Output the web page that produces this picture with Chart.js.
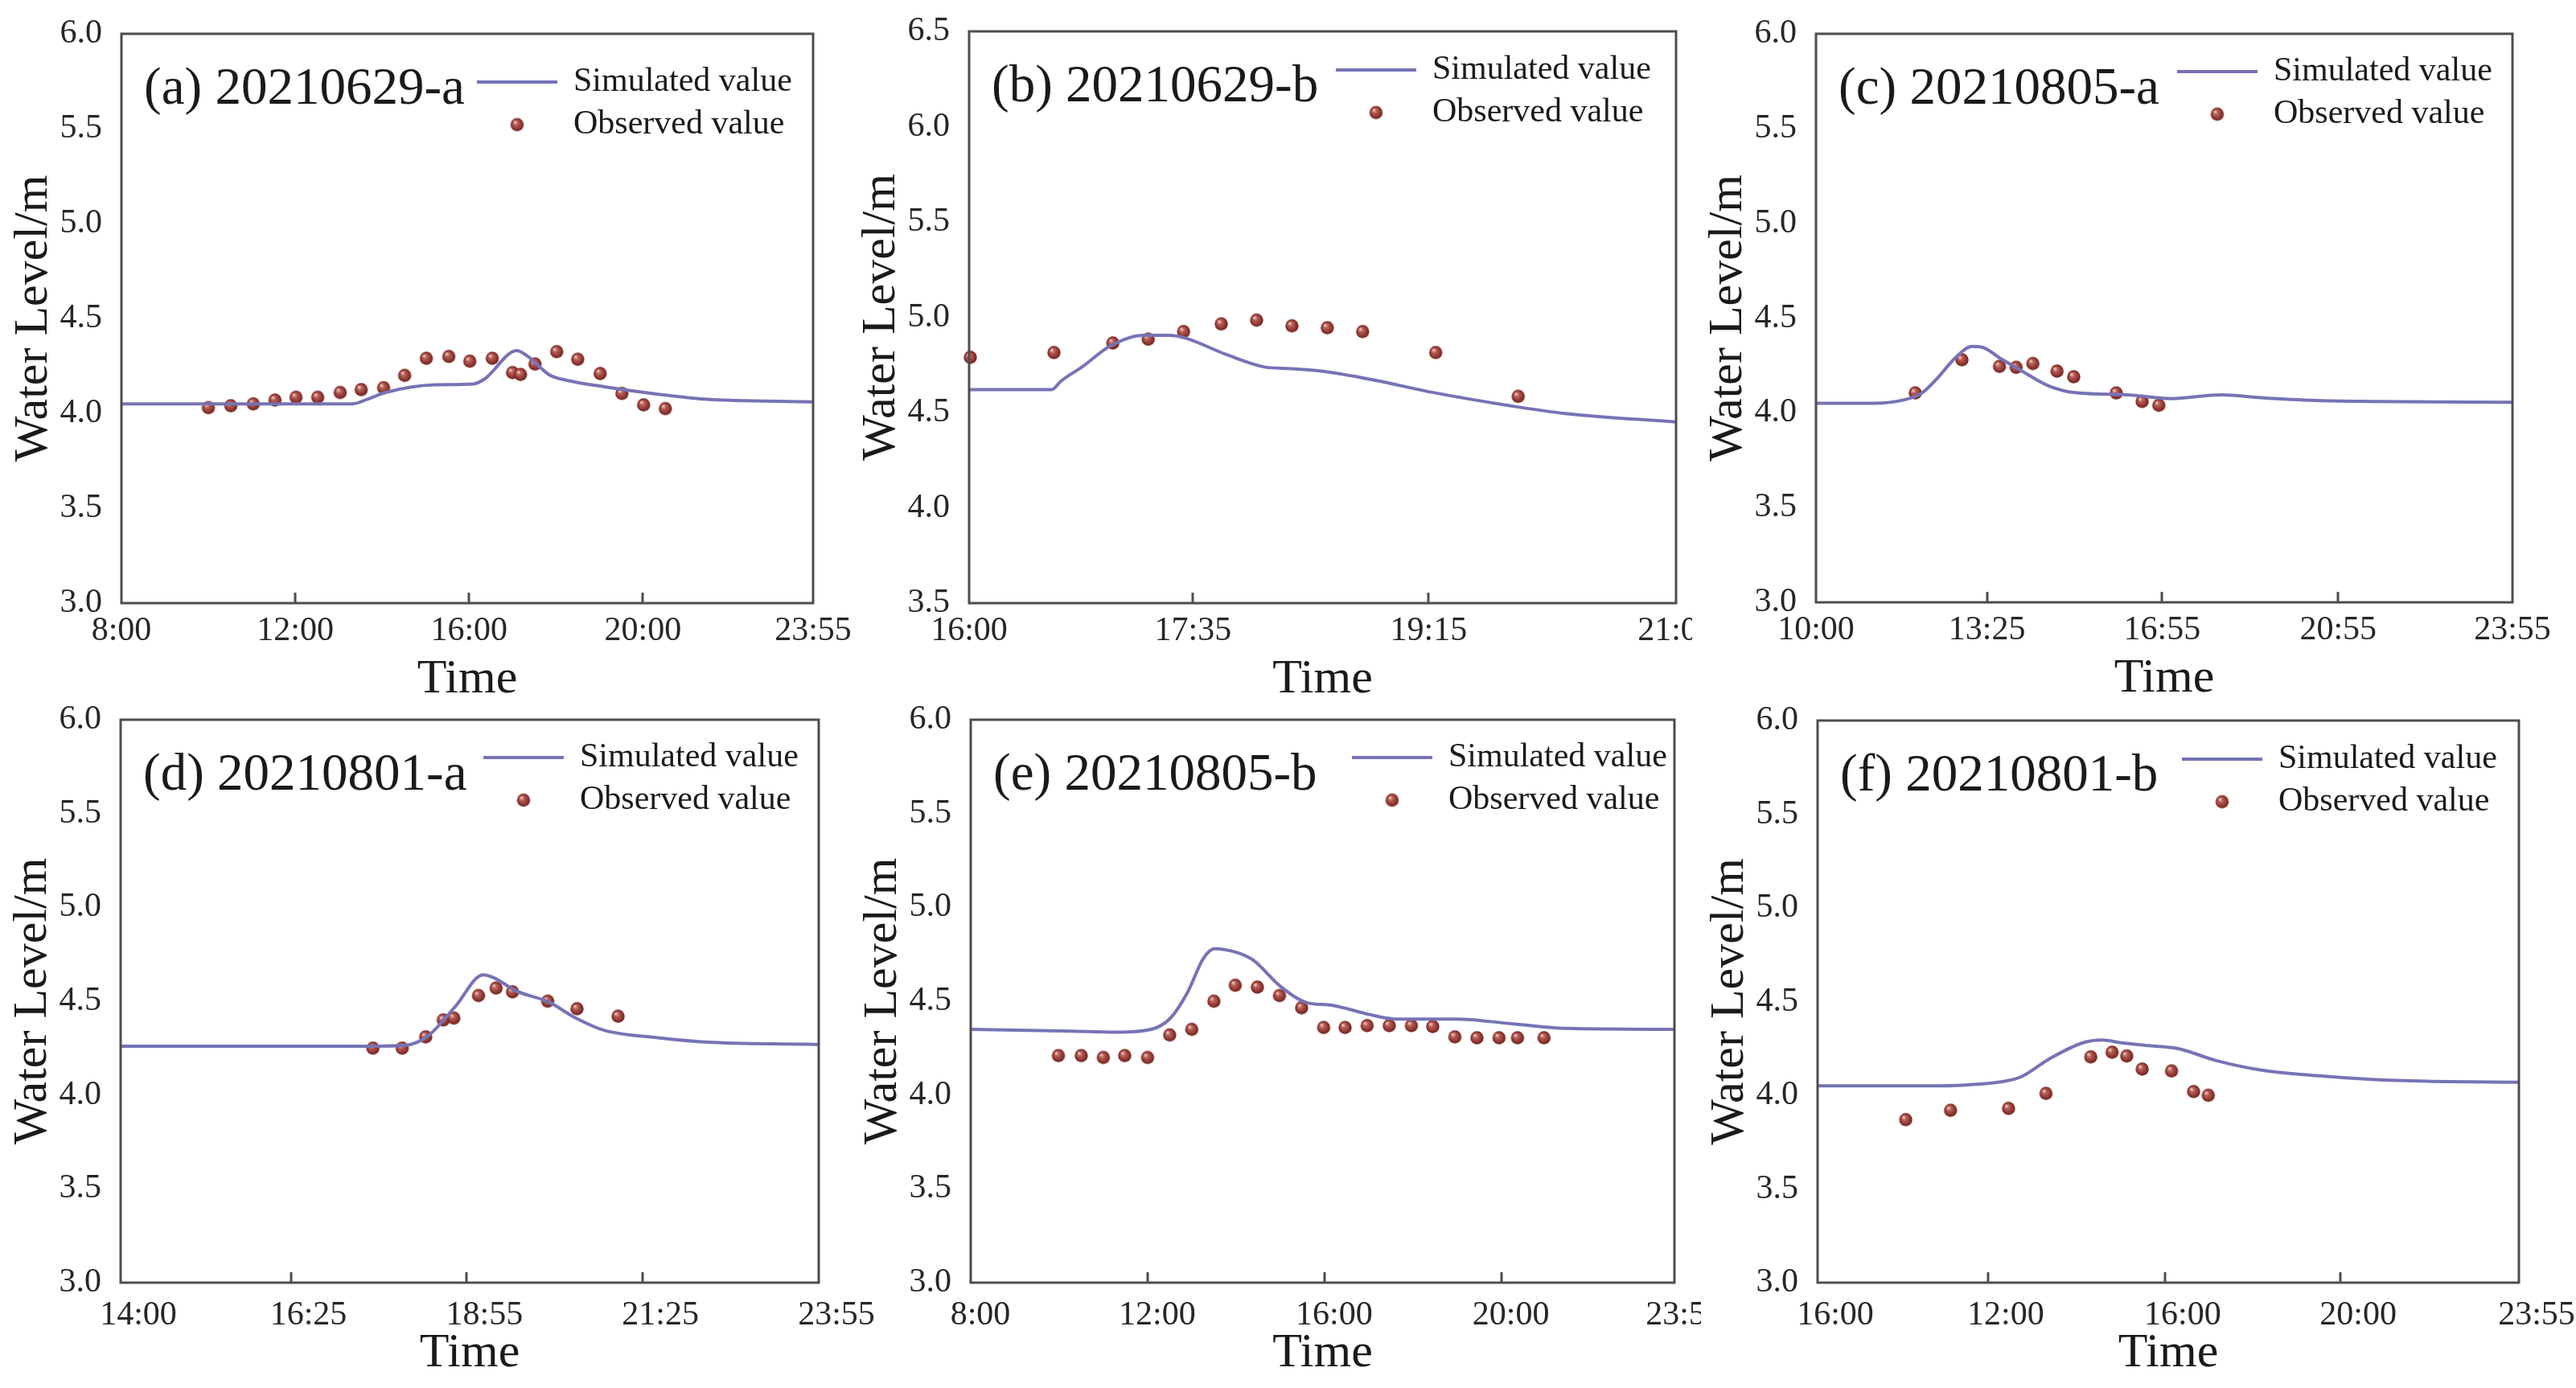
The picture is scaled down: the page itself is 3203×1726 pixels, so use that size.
<!DOCTYPE html>
<html>
<head>
<meta charset="utf-8">
<script src="https://cdn.jsdelivr.net/npm/chart.js@4.4.1/dist/chart.umd.min.js"></script>
<style>
  html, body { margin: 0; padding: 0; background: #fff; }
  body { width: 3203px; height: 1726px; position: relative; overflow: hidden; }
  canvas.panel { position: absolute; }
</style>
</head>
<body>
<script>
// ---- data (time = minutes after the first tick of each panel) ----
const simTimeA  = [0, 319, 340, 365, 433, 486, 501, 546, 561, 592, 614, 667, 743, 804, 955];
const simLevelA = [4.05, 4.05, 4.075, 4.11, 4.15, 4.155, 4.18, 4.33, 4.30, 4.20, 4.175, 4.14, 4.10, 4.075, 4.06];
const obsTimeA  = [120, 151, 182, 212, 241, 271, 302, 331, 362, 391, 421, 452, 481, 512, 540, 551, 571, 601, 630, 661, 691, 721, 751];
const obsLevelA = [4.03, 4.04, 4.05, 4.07, 4.085, 4.085, 4.11, 4.125, 4.135, 4.20, 4.29, 4.30, 4.275, 4.29, 4.215, 4.205, 4.26, 4.325, 4.285, 4.21, 4.105, 4.045, 4.025];
const tickPosA  = [0, 240, 480, 720, 955];
const tickTextA = ['8:00', '12:00', '16:00', '20:00', '23:55'];

const simTimeB  = [0, 35, 39, 48, 60, 74, 85, 92, 109, 125, 137, 151, 172, 197, 230, 253, 300];
const simLevelB = [4.62, 4.62, 4.665, 4.74, 4.85, 4.905, 4.905, 4.89, 4.805, 4.74, 4.73, 4.715, 4.67, 4.605, 4.535, 4.495, 4.45];
const obsTimeB  = [0.5, 36, 61, 76, 91, 107, 122, 137, 152, 167, 198, 233];
const obsLevelB = [4.79, 4.815, 4.865, 4.885, 4.925, 4.965, 4.985, 4.955, 4.945, 4.925, 4.815, 4.585];
const tickPosB  = [0, 95, 195, 300];
const tickTextB = ['16:00', '17:35', '19:15', '21:00'];

const simTimeC  = [0, 67, 107, 127, 147, 167, 187, 200, 220, 247, 280, 313, 373, 426, 486, 533, 600, 666, 835];
const simLevelC = [4.05, 4.05, 4.07, 4.105, 4.19, 4.29, 4.35, 4.345, 4.29, 4.22, 4.14, 4.105, 4.095, 4.075, 4.095, 4.08, 4.065, 4.06, 4.055];
const obsTimeC  = [119, 175, 220, 240, 260, 289, 309, 360, 391, 411];
const obsLevelC = [4.105, 4.28, 4.245, 4.24, 4.26, 4.22, 4.19, 4.105, 4.06, 4.04];
const tickPosC  = [0, 205, 415, 626, 835];
const tickTextC = ['10:00', '13:25', '16:55', '20:55', '23:55'];

const simTimeD  = [0, 215, 243, 262, 285, 309, 318, 337, 365, 388, 412, 458, 505, 595];
const simLevelD = [4.26, 4.26, 4.265, 4.315, 4.47, 4.64, 4.625, 4.555, 4.495, 4.41, 4.345, 4.305, 4.28, 4.27];
const obsTimeD  = [215, 240, 260, 275, 284, 305, 320, 334, 364, 389, 424];
const obsLevelD = [4.25, 4.25, 4.31, 4.40, 4.41, 4.53, 4.57, 4.55, 4.50, 4.46, 4.42];
const tickPosD  = [0, 145, 295, 445, 595];
const tickTextD = ['14:00', '16:25', '18:55', '21:25', '23:55'];

const simTimeE  = [0, 137, 197, 245, 271, 294, 316, 331, 361, 383, 420, 458, 487, 540, 576, 659, 734, 808, 955];
const simLevelE = [4.35, 4.34, 4.335, 4.35, 4.41, 4.545, 4.73, 4.78, 4.76, 4.72, 4.58, 4.49, 4.48, 4.43, 4.405, 4.405, 4.38, 4.355, 4.35];
const obsTimeE  = [119, 150, 180, 209, 240, 270, 300, 330, 359, 389, 419, 449, 479, 508, 538, 568, 598, 627, 657, 687, 717, 742, 778];
const obsLevelE = [4.21, 4.21, 4.20, 4.21, 4.20, 4.32, 4.35, 4.50, 4.585, 4.575, 4.53, 4.465, 4.36, 4.36, 4.37, 4.37, 4.37, 4.365, 4.31, 4.305, 4.305, 4.305, 4.305];
const tickPosE  = [0, 240, 480, 720, 955];
const tickTextE = ['8:00', '12:00', '16:00', '20:00', '23:55'];

const simTimeF  = [0, 149, 202, 255, 278, 316, 361, 387, 414, 452, 490, 543, 603, 679, 754, 830, 955];
const simLevelF = [4.05, 4.05, 4.055, 4.075, 4.10, 4.195, 4.28, 4.295, 4.28, 4.265, 4.25, 4.185, 4.135, 4.105, 4.085, 4.075, 4.07];
const obsTimeF  = [120, 181, 260, 311, 372, 401, 421, 442, 482, 512, 532];
const obsLevelF = [3.87, 3.92, 3.93, 4.01, 4.205, 4.23, 4.21, 4.14, 4.13, 4.02, 4.00];
const tickPosF  = [0, 232, 473, 712, 955];
const tickTextF = ['16:00', '12:00', '16:00', '20:00', '23:55'];

const yRangeA = [3.0, 6.0];
const yRangeB = [3.5, 6.5];

// ---- layout / style ----
const FONT = '"Liberation Serif", "Times New Roman", serif';
const TEXT_COLOR = '#1a1a1a';
const FRAME_COLOR = '#4d4d4d';
const SIM_COLOR = '#7673b6';

const panels = [
  { title: '(a) 20210629-a', sim: [simTimeA, simLevelA], obs: [obsTimeA, obsLevelA], ticks: [tickPosA, tickTextA], y: yRangeA,
    L: 151, R: 1011, T: 42, B: 750, row: 0, labelOffset: 0, rightRoom: 80, legendRight: 418, legendTop: 60 },
  { title: '(b) 20210629-b', sim: [simTimeB, simLevelB], obs: [obsTimeB, obsLevelB], ticks: [tickPosB, tickTextB], y: yRangeB,
    L: 1205, R: 2084, T: 39, B: 750, row: 0, labelOffset: 0, rightRoom: 20, legendRight: 423, legendTop: 48 },
  { title: '(c) 20210805-a', sim: [simTimeC, simLevelC], obs: [obsTimeC, obsLevelC], ticks: [tickPosC, tickTextC], y: yRangeA,
    L: 2258, R: 3124, T: 42, B: 749, row: 0, labelOffset: 0, rightRoom: 79, legendRight: 417, legendTop: 47 },
  { title: '(d) 20210801-a', sim: [simTimeD, simLevelD], obs: [obsTimeD, obsLevelD], ticks: [tickPosD, tickTextD], y: yRangeA,
    L: 150, R: 1018, T: 895, B: 1595, row: 1, labelOffset: 22, rightRoom: 80, legendRight: 417, legendTop: 47 },
  { title: '(e) 20210805-b', sim: [simTimeE, simLevelE], obs: [obsTimeE, obsLevelE], ticks: [tickPosE, tickTextE], y: yRangeA,
    L: 1207, R: 2082, T: 895, B: 1595, row: 1, labelOffset: 12, rightRoom: 33, legendRight: 401, legendTop: 47 },
  { title: '(f) 20210801-b', sim: [simTimeF, simLevelF], obs: [obsTimeF, obsLevelF], ticks: [tickPosF, tickTextF], y: yRangeA,
    L: 2260, R: 3132, T: 896, B: 1595, row: 1, labelOffset: 22, rightRoom: 71, legendRight: 419, legendTop: 48 }
];
const rowStyle = [
  { tickPad: 2, titlePad: 7 },
  { tickPad: 8, titlePad: 14 }
];

const LEFT_ROOM = 153;
const TOP_ROOM = 40;
const BOTTOM_ROOM = 130;

function makeSphere(r) {
  const c = document.createElement('canvas');
  c.width = c.height = Math.ceil(r * 2 + 2);
  const g = c.getContext('2d');
  const cx = c.width / 2, cy = c.height / 2;
  const grad = g.createRadialGradient(cx - r * 0.35, cy - r * 0.4, r * 0.05, cx, cy, r);
  grad.addColorStop(0, '#f3cfc6');
  grad.addColorStop(0.3, '#b8625a');
  grad.addColorStop(0.75, '#8f3530');
  grad.addColorStop(1, '#6e2320');
  g.fillStyle = grad;
  g.beginPath();
  g.arc(cx, cy, r, 0, Math.PI * 2);
  g.fill();
  return c;
}
const sphere = makeSphere(8.2);

// frame, inner ticks, panel title and legend inside the plot box
const panelDecor = {
  id: 'panelDecor',
  afterDatasetsDraw(chart, args, opts) {
    const ctx = chart.ctx;
    const a = chart.chartArea;
    const xs = chart.scales.x;
    ctx.save();
    ctx.strokeStyle = FRAME_COLOR;
    ctx.lineWidth = 3;
    xs.ticks.forEach((t, i) => {
      if (i === 0 || i === xs.ticks.length - 1) return;
      const px = Math.round(xs.getPixelForValue(t.value));
      ctx.beginPath();
      ctx.moveTo(px, a.bottom);
      ctx.lineTo(px, a.bottom - 13);
      ctx.stroke();
    });
    ctx.strokeRect(a.left, a.top, a.right - a.left, a.bottom - a.top);

    ctx.fillStyle = TEXT_COLOR;
    ctx.textBaseline = 'middle';
    ctx.textAlign = 'left';
    ctx.font = '65px ' + FONT;
    ctx.fillText(opts.title, a.left + 28, a.top + 70);

    const sim = chart.data.datasets[0];
    const obs = chart.data.datasets[1];
    const lx = a.right - opts.legendRight;
    const ly = a.top + opts.legendTop;
    ctx.strokeStyle = sim.borderColor;
    ctx.lineWidth = sim.borderWidth;
    ctx.beginPath();
    ctx.moveTo(lx, ly);
    ctx.lineTo(lx + 100, ly);
    ctx.stroke();
    ctx.drawImage(obs.pointStyle, lx + 50 - obs.pointStyle.width / 2, ly + 53 - obs.pointStyle.height / 2);
    ctx.font = '42px ' + FONT;
    ctx.fillText(sim.label, lx + 120, ly);
    ctx.fillText(obs.label, lx + 120, ly + 53);
    ctx.restore();
  }
};

panels.forEach(p => {
  const rs = rowStyle[p.row];
  const canvas = document.createElement('canvas');
  canvas.className = 'panel';
  const w = (p.R - p.L) + LEFT_ROOM + p.rightRoom;
  const h = (p.B - p.T) + TOP_ROOM + BOTTOM_ROOM;
  canvas.width = w;
  canvas.height = h;
  canvas.style.width = w + 'px';
  canvas.style.height = h + 'px';
  canvas.style.left = (p.L - LEFT_ROOM) + 'px';
  canvas.style.top = (p.T - TOP_ROOM) + 'px';
  document.body.appendChild(canvas);

  const [simT, simV] = p.sim;
  const [obsT, obsV] = p.obs;
  const [tickPos, tickText] = p.ticks;

  new Chart(canvas.getContext('2d'), {
    type: 'scatter',
    data: {
      datasets: [
        {
          label: 'Simulated value',
          data: simT.map((t, i) => ({ x: t, y: simV[i] })),
          showLine: true,
          borderColor: SIM_COLOR,
          borderWidth: 4,
          pointRadius: 0,
          cubicInterpolationMode: 'monotone',
          fill: false
        },
        {
          label: 'Observed value',
          data: obsT.map((t, i) => ({ x: t, y: obsV[i] })),
          showLine: false,
          pointStyle: sphere,
          pointRadius: 8,
          clip: false
        }
      ]
    },
    options: {
      responsive: false,
      devicePixelRatio: 1,
      animation: false,
      events: [],
      layout: { padding: { left: 0, top: TOP_ROOM, right: p.rightRoom, bottom: 0 } },
      plugins: {
        legend: { display: false },
        tooltip: { enabled: false },
        panelDecor: { title: p.title, legendRight: p.legendRight, legendTop: p.legendTop }
      },
      scales: {
        x: {
          type: 'linear',
          min: tickPos[0],
          max: tickPos[tickPos.length - 1],
          afterBuildTicks: s => { s.ticks = tickPos.map(v => ({ value: v })); },
          afterFit: s => { s.height = BOTTOM_ROOM; s.paddingLeft = 0; s.paddingRight = 0; },
          grid: { display: false },
          border: { display: false },
          ticks: {
            autoSkip: false,
            maxRotation: 0,
            padding: rs.tickPad,
            labelOffset: p.labelOffset,
            color: '#262626',
            font: { family: FONT, size: 42 },
            callback: (v, i) => tickText[i]
          },
          title: {
            display: true,
            text: 'Time',
            color: TEXT_COLOR,
            font: { family: FONT, size: 60, lineHeight: 1 },
            padding: { top: 0, bottom: rs.titlePad - 2 }
          }
        },
        y: {
          min: p.y[0],
          max: p.y[1],
          afterFit: s => { s.width = LEFT_ROOM; s.paddingTop = 0; s.paddingBottom = 0; },
          grid: { display: false },
          border: { display: false },
          ticks: {
            stepSize: 0.5,
            padding: 16,
            color: '#262626',
            font: { family: FONT, size: 42 },
            callback: v => v.toFixed(1)
          },
          title: {
            display: true,
            text: 'Water Level/m',
            color: TEXT_COLOR,
            font: { family: FONT, size: 60, lineHeight: 1 },
            padding: { top: 14, bottom: 0 }
          }
        }
      }
    },
    plugins: [panelDecor]
  });
});
</script>
</body>
</html>
